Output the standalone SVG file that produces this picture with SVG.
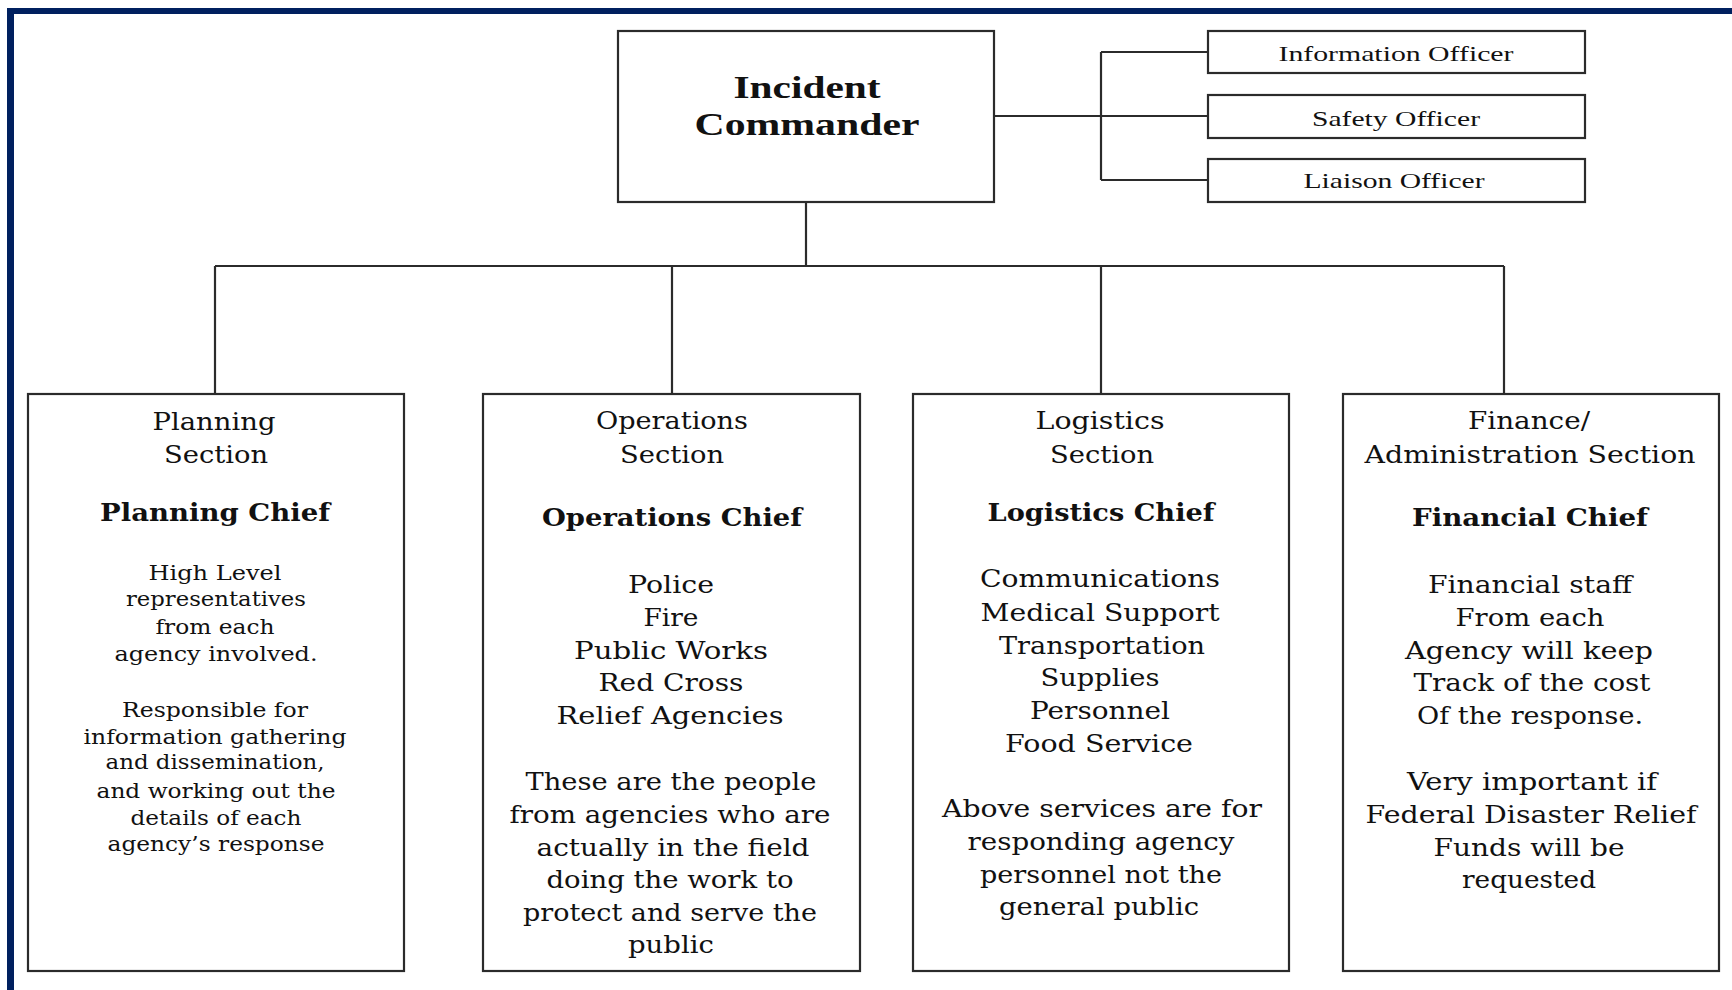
<svg xmlns="http://www.w3.org/2000/svg" width="1732" height="990" viewBox="0 0 1732 990">
  <style>
    .box { fill: #ffffff; stroke: #2b2b2b; stroke-width: 2.2; }
    .wire { fill: none; stroke: #2b2b2b; stroke-width: 2.2; }
    .frame { fill: #00205f; }
    text { fill: #111111; text-anchor: middle; }
    .cmd { font-family: "Liberation Serif", "Times New Roman", serif; font-weight: bold; font-size: 32px; }
    .off { font-family: "Liberation Serif", "Times New Roman", serif; font-size: 21px; }
    .sec { font-family: "DejaVu Serif", "Liberation Serif", serif; font-size: 25px; }
    .chief { font-family: "DejaVu Serif", "Liberation Serif", serif; font-weight: bold; font-size: 25px; }
    .list { font-family: "DejaVu Serif", "Liberation Serif", serif; font-size: 25px; }
    .small { font-family: "DejaVu Serif", "Liberation Serif", serif; font-size: 21px; }
  </style>

  <rect x="0" y="0" width="1732" height="990" fill="#ffffff"/>

  <!-- navy frame: top and left bars -->
  <rect class="frame" x="7" y="8" width="1725" height="6"/>
  <rect class="frame" x="7" y="8" width="7" height="982"/>

  <!-- connectors -->
  <g id="connectors">
    <path class="wire" d="M994 116 H1208"/>
    <path class="wire" d="M1101 52 V180"/>
    <path class="wire" d="M1101 52 H1208"/>
    <path class="wire" d="M1101 180 H1208"/>
    <path class="wire" d="M806 202 V266"/>
    <path class="wire" d="M215 266 H1504"/>
    <path class="wire" d="M215 266 V394"/>
    <path class="wire" d="M672 266 V394"/>
    <path class="wire" d="M1101 266 V394"/>
    <path class="wire" d="M1504 266 V394"/>
  </g>

  <g id="incident-commander">
    <rect class="box" x="618" y="31" width="376" height="171"/>
    <text class="cmd" x="807" y="98" textLength="147" lengthAdjust="spacingAndGlyphs">Incident</text>
    <text class="cmd" x="807" y="135" textLength="225" lengthAdjust="spacingAndGlyphs">Commander</text>
  </g>

  <g id="information-officer">
    <rect class="box" x="1208" y="31" width="377" height="42"/>
    <text class="off" x="1396" y="61" textLength="235" lengthAdjust="spacingAndGlyphs">Information Officer</text>
  </g>

  <g id="safety-officer">
    <rect class="box" x="1208" y="95" width="377" height="43"/>
    <text class="off" x="1396" y="126" textLength="168" lengthAdjust="spacingAndGlyphs">Safety Officer</text>
  </g>

  <g id="liaison-officer">
    <rect class="box" x="1208" y="159" width="377" height="43"/>
    <text class="off" x="1394" y="188" textLength="181" lengthAdjust="spacingAndGlyphs">Liaison Officer</text>
  </g>

  <g id="planning-section">
    <rect class="box" x="28" y="394" width="376" height="577"/>
    <text class="sec" x="214" y="430" textLength="123" lengthAdjust="spacingAndGlyphs">Planning</text>
    <text class="sec" x="216" y="463" textLength="104" lengthAdjust="spacingAndGlyphs">Section</text>
    <text class="chief" x="215" y="521" textLength="230" lengthAdjust="spacingAndGlyphs">Planning Chief</text>
    <text class="small" x="215" y="580" textLength="133" lengthAdjust="spacingAndGlyphs">High Level</text>
    <text class="small" x="216" y="606" textLength="180" lengthAdjust="spacingAndGlyphs">representatives</text>
    <text class="small" x="215" y="634" textLength="119" lengthAdjust="spacingAndGlyphs">from each</text>
    <text class="small" x="216" y="661" textLength="203" lengthAdjust="spacingAndGlyphs">agency involved.</text>
    <text class="small" x="215" y="717" textLength="186" lengthAdjust="spacingAndGlyphs">Responsible for</text>
    <text class="small" x="215" y="744" textLength="263" lengthAdjust="spacingAndGlyphs">information gathering</text>
    <text class="small" x="215" y="769" textLength="219" lengthAdjust="spacingAndGlyphs">and dissemination,</text>
    <text class="small" x="216" y="798" textLength="239" lengthAdjust="spacingAndGlyphs">and working out the</text>
    <text class="small" x="216" y="825" textLength="171" lengthAdjust="spacingAndGlyphs">details of each</text>
    <text class="small" x="216" y="851" textLength="217" lengthAdjust="spacingAndGlyphs">agency’s response</text>
  </g>

  <g id="operations-section">
    <rect class="box" x="483" y="394" width="377" height="577"/>
    <text class="sec" x="672" y="429" textLength="152" lengthAdjust="spacingAndGlyphs">Operations</text>
    <text class="sec" x="672" y="463" textLength="104" lengthAdjust="spacingAndGlyphs">Section</text>
    <text class="chief" x="672" y="526" textLength="260" lengthAdjust="spacingAndGlyphs">Operations Chief</text>
    <text class="list" x="671" y="593" textLength="86" lengthAdjust="spacingAndGlyphs">Police</text>
    <text class="list" x="671" y="626" textLength="55" lengthAdjust="spacingAndGlyphs">Fire</text>
    <text class="list" x="671" y="659" textLength="194" lengthAdjust="spacingAndGlyphs">Public Works</text>
    <text class="list" x="671" y="691" textLength="145" lengthAdjust="spacingAndGlyphs">Red Cross</text>
    <text class="list" x="670" y="724" textLength="227" lengthAdjust="spacingAndGlyphs">Relief Agencies</text>
    <text class="list" x="671" y="790" textLength="291" lengthAdjust="spacingAndGlyphs">These are the people</text>
    <text class="list" x="670" y="823" textLength="321" lengthAdjust="spacingAndGlyphs">from agencies who are</text>
    <text class="list" x="673" y="856" textLength="273" lengthAdjust="spacingAndGlyphs">actually in the field</text>
    <text class="list" x="670" y="888" textLength="247" lengthAdjust="spacingAndGlyphs">doing the work to</text>
    <text class="list" x="670" y="921" textLength="294" lengthAdjust="spacingAndGlyphs">protect and serve the</text>
    <text class="list" x="671" y="953" textLength="86" lengthAdjust="spacingAndGlyphs">public</text>
  </g>

  <g id="logistics-section">
    <rect class="box" x="913" y="394" width="376" height="577"/>
    <text class="sec" x="1100" y="429" textLength="129" lengthAdjust="spacingAndGlyphs">Logistics</text>
    <text class="sec" x="1102" y="463" textLength="104" lengthAdjust="spacingAndGlyphs">Section</text>
    <text class="chief" x="1101" y="521" textLength="227" lengthAdjust="spacingAndGlyphs">Logistics Chief</text>
    <text class="list" x="1100" y="587" textLength="240" lengthAdjust="spacingAndGlyphs">Communications</text>
    <text class="list" x="1100" y="621" textLength="239" lengthAdjust="spacingAndGlyphs">Medical Support</text>
    <text class="list" x="1102" y="654" textLength="206" lengthAdjust="spacingAndGlyphs">Transportation</text>
    <text class="list" x="1100" y="686" textLength="119" lengthAdjust="spacingAndGlyphs">Supplies</text>
    <text class="list" x="1100" y="719" textLength="140" lengthAdjust="spacingAndGlyphs">Personnel</text>
    <text class="list" x="1099" y="752" textLength="188" lengthAdjust="spacingAndGlyphs">Food Service</text>
    <text class="list" x="1102" y="817" textLength="320" lengthAdjust="spacingAndGlyphs">Above services are for</text>
    <text class="list" x="1101" y="850" textLength="267" lengthAdjust="spacingAndGlyphs">responding agency</text>
    <text class="list" x="1101" y="883" textLength="242" lengthAdjust="spacingAndGlyphs">personnel not the</text>
    <text class="list" x="1099" y="915" textLength="200" lengthAdjust="spacingAndGlyphs">general public</text>
  </g>

  <g id="finance-section">
    <rect class="box" x="1343" y="394" width="376" height="577"/>
    <text class="sec" x="1529" y="429" textLength="122" lengthAdjust="spacingAndGlyphs">Finance/</text>
    <text class="sec" x="1530" y="463" textLength="331" lengthAdjust="spacingAndGlyphs">Administration Section</text>
    <text class="chief" x="1530" y="526" textLength="236" lengthAdjust="spacingAndGlyphs">Financial Chief</text>
    <text class="list" x="1530" y="593" textLength="204" lengthAdjust="spacingAndGlyphs">Financial staff</text>
    <text class="list" x="1530" y="626" textLength="149" lengthAdjust="spacingAndGlyphs">From each</text>
    <text class="list" x="1529" y="659" textLength="248" lengthAdjust="spacingAndGlyphs">Agency will keep</text>
    <text class="list" x="1532" y="691" textLength="237" lengthAdjust="spacingAndGlyphs">Track of the cost</text>
    <text class="list" x="1530" y="724" textLength="226" lengthAdjust="spacingAndGlyphs">Of the response.</text>
    <text class="list" x="1532" y="790" textLength="250" lengthAdjust="spacingAndGlyphs">Very important if</text>
    <text class="list" x="1531" y="823" textLength="331" lengthAdjust="spacingAndGlyphs">Federal Disaster Relief</text>
    <text class="list" x="1529" y="856" textLength="191" lengthAdjust="spacingAndGlyphs">Funds will be</text>
    <text class="list" x="1529" y="888" textLength="134" lengthAdjust="spacingAndGlyphs">requested</text>
  </g>
</svg>
